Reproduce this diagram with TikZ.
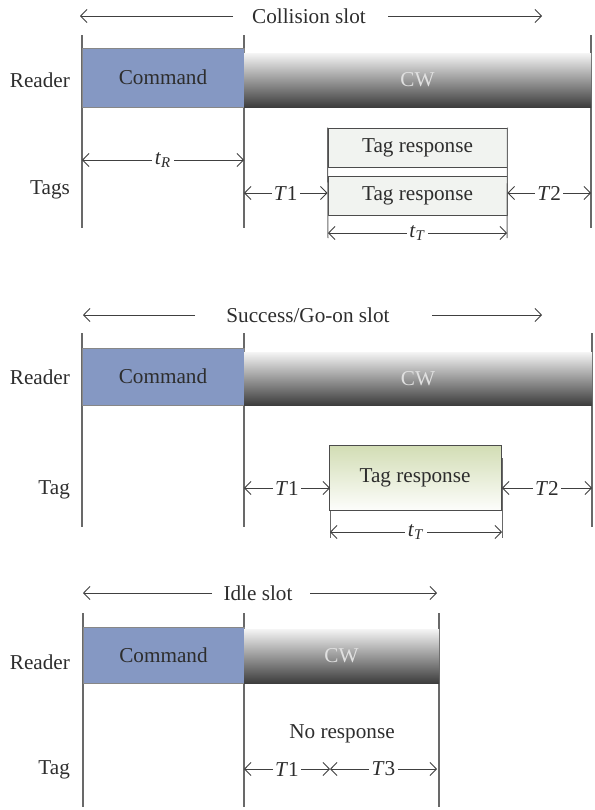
\documentclass[tikz,border=0pt]{standalone}
\usepackage{fontspec}
\setmainfont{Liberation Serif}
\usetikzlibrary{positioning, calc, arrows.meta}

\definecolor{cmdblue}{RGB}{133,152,195}
\definecolor{linegray}{RGB}{105,105,105}
\definecolor{textgray}{RGB}{45,45,45}
\definecolor{tagfill}{RGB}{241,243,240}
\definecolor{taggreen}{RGB}{210,221,180}

\tikzset{
    slotline/.style={draw=linegray, line width=0.65pt},
    boxsize/.style 2 args={minimum width=#1*0.5pt, minimum height=#2*0.5pt, inner sep=0pt},
    cmdbox/.style={draw=linegray!80, line width=0.4pt, fill=cmdblue, text=textgray},
    cwbox/.style={top color=white!96!black, bottom color=black!76, text=white!88!black},
    tagbox/.style={draw=black!70, line width=0.5pt, fill=tagfill, text=textgray},
    okbox/.style={draw=black!70, line width=0.5pt, top color=taggreen, bottom color=white!95!taggreen, text=textgray},
    dimarrow/.style={draw=black!75, line width=0.45pt, {Straight Barb[length=3.2pt,width=6.5pt]}-{Straight Barb[length=3.2pt,width=6.5pt]}},
    titlearrow/.style={draw=black!75, line width=0.45pt, -{Straight Barb[length=3.2pt,width=6.5pt]}},
    dimlabel/.style={fill=white, inner xsep=1.2pt, inner ysep=0.5pt, text=textgray},
    rowlabel/.style={anchor=east, text=textgray},
}

\begin{document}
\begin{tikzpicture}[x=0.5pt, y=-0.5pt, every node/.append style={font=\fontsize{10.6}{12}\selectfont}]
    \useasboundingbox (0,0) rectangle (595,810);

    % collision slot
    \node[text=textgray] (titleA) at (309,16) {Collision slot};
    \draw[titlearrow] (233,16) -- (80,16);
    \draw[titlearrow] (388,16) -- (542,16);

    \foreach \x/\n in {82/l, 244/m, 591/r}
        \draw[slotline] (\x,35) coordinate (A\n top) -- (\x,228) coordinate (A\n bot);

    \node[cmdbox, boxsize={162}{59}] (cmdA) at (163,77.5) {Command};
    \node[cwbox, boxsize={347}{54}] (cwA) at (417.5,80) {CW};
    \node[rowlabel] (readerA) at (77,80) {Reader};
    \node[rowlabel] (tagsA) at (77,190) {Tags};

    \draw[dimarrow] (82,160) -- node[dimlabel] {\textit{t}\textsubscript{\textit{R}}} (244,160);

    \node[tagbox, boxsize={179}{39}] (respA) at (417.5,147.5) {Tag response};
    \node[tagbox, boxsize={179}{39}] (respB) at (417.5,195.5) {Tag response};
    \draw[slotline, line width=0.5pt] (respA.north west) -- (328,238);
    \draw[slotline, line width=0.5pt] (respA.north east) -- (507,238);

    \draw[dimarrow] (244,193) -- node[dimlabel] {\textit{T}1} (respB.west |- 0,193);
    \draw[dimarrow] (respB.east |- 0,193) -- node[dimlabel] {\textit{T}2} (591,193);
    \draw[dimarrow] (328,233) -- node[dimlabel] {\textit{t}\textsubscript{\textit{T}}} (507,233);

    % success/go-on slot
    \node[text=textgray] (titleB) at (308,315) {Success/Go-on slot};
    \draw[titlearrow] (195,315) -- (83,315);
    \draw[titlearrow] (432,315) -- (542,315);

    \foreach \x/\n in {82/l, 244/m, 592/r}
        \draw[slotline] (\x,333) coordinate (B\n top) -- (\x,527) coordinate (B\n bot);

    \node[cmdbox, boxsize={162}{57}] (cmdB) at (163,376.5) {Command};
    \node[cwbox, boxsize={348}{53}] (cwB) at (418,378.5) {CW};
    \node[rowlabel] (readerB) at (77,377) {Reader};
    \node[rowlabel] (tagB) at (77,490) {Tag};

    \draw[slotline, line width=0.5pt] (330,458) -- (330,538);
    \draw[slotline, line width=0.5pt] (502,458) -- (502,538);
    \node[okbox, boxsize={172}{65}] (respC) at (415,477.5) {Tag response};

    \draw[dimarrow] (244,488) -- node[dimlabel] {\textit{T}1} (330,488);
    \draw[dimarrow] (502,488) -- node[dimlabel] {\textit{T}2} (592,488);
    \draw[dimarrow] (330,532) -- node[dimlabel] {\textit{t}\textsubscript{\textit{T}}} (502,532);

    % idle slot
    \node[text=textgray] (titleC) at (258,593) {Idle slot};
    \draw[titlearrow] (212,593) -- (83,593);
    \draw[titlearrow] (310,593) -- (437,593);

    \foreach \x/\n in {83/l, 244/m, 439/r}
        \draw[slotline] (\x,613) coordinate (C\n top) -- (\x,807) coordinate (C\n bot);

    \node[cmdbox, boxsize={161}{56}] (cmdC) at (163.5,655) {Command};
    \node[cwbox, boxsize={195}{54}] (cwC) at (341.5,656) {CW};
    \node[rowlabel] (readerC) at (77,662) {Reader};
    \node[rowlabel] (tagC) at (77,770) {Tag};

    \node[text=textgray] (noresp) at (342,734) {No response};
    \coordinate (split) at (330,769);
    \draw[dimarrow] (244,769) -- node[dimlabel] {\textit{T}1} (split);
    \draw[dimarrow] (split) -- node[dimlabel] {\textit{T}3} (437,769);
\end{tikzpicture}
\end{document}
